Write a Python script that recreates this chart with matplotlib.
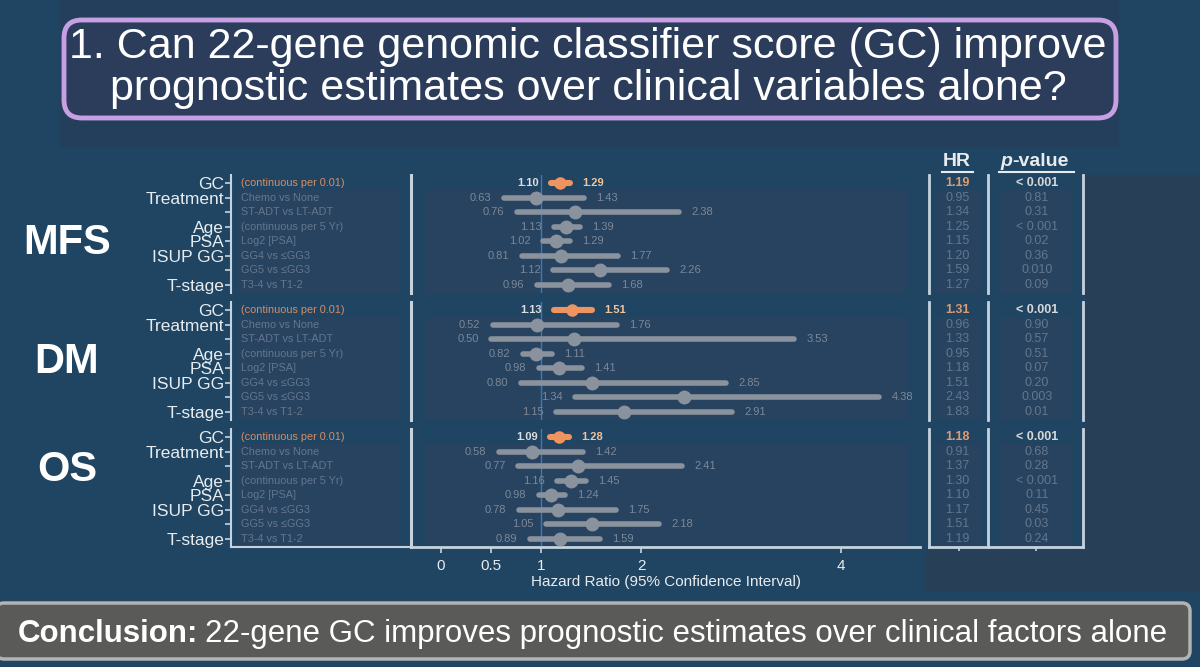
import matplotlib
matplotlib.use("Agg")
import matplotlib.pyplot as plt
from matplotlib.patches import FancyBboxPatch, Rectangle

plt.rcParams['font.family'] = ['Liberation Sans', 'DejaVu Sans']

W, H = 1200, 667

# ---- data ----
sections = ['MFS', 'DM', 'OS']
categories = ['GC', 'Treatment', '', 'Age', 'PSA', 'ISUP GG', '', 'T-stage']
subgroups = ['(continuous per 0.01)', 'Chemo vs None', 'ST-ADT vs LT-ADT',
             '(continuous per 5 Yr)', 'Log2 [PSA]', 'GG4 vs \u2264GG3',
             'GG5 vs \u2264GG3', 'T3-4 vs T1-2']

mfs_hr = [1.19, 0.95, 1.34, 1.25, 1.15, 1.20, 1.59, 1.27]
mfs_lo = [1.10, 0.63, 0.76, 1.13, 1.02, 0.81, 1.12, 0.96]
mfs_hi = [1.29, 1.43, 2.38, 1.39, 1.29, 1.77, 2.26, 1.68]
mfs_p = ['< 0.001', '0.81', '0.31', '< 0.001', '0.02', '0.36', '0.010', '0.09']

dm_hr = [1.31, 0.96, 1.33, 0.95, 1.18, 1.51, 2.43, 1.83]
dm_lo = [1.13, 0.52, 0.50, 0.82, 0.98, 0.80, 1.34, 1.15]
dm_hi = [1.51, 1.76, 3.53, 1.11, 1.41, 2.85, 4.38, 2.91]
dm_p = ['< 0.001', '0.90', '0.57', '0.51', '0.07', '0.20', '0.003', '0.01']

os_hr = [1.18, 0.91, 1.37, 1.30, 1.10, 1.17, 1.51, 1.19]
os_lo = [1.09, 0.58, 0.77, 1.16, 0.98, 0.78, 1.05, 0.89]
os_hi = [1.28, 1.42, 2.41, 1.45, 1.24, 1.75, 2.18, 1.59]
os_p = ['< 0.001', '0.68', '0.28', '< 0.001', '0.11', '0.45', '0.03', '0.24']

x_ticks = [0, 0.5, 1, 2, 4]
x_ticklabels = ['0', '0.5', '1', '2', '4']

title_lines = ['1. Can 22-gene genomic classifier score (GC) improve',
               'prognostic estimates over clinical variables alone?']

# ---- colours ----
BG = '#1f4563'
PANEL = '#274360'
SPINE = '#c6d3de'
WHITE = '#e8ecef'
GRAY = '#8a939d'
DIM = '#64768c'
ORANGE = '#ef9361'

fig = plt.figure(figsize=(12, 6.67), dpi=100)
fig.patch.set_facecolor(BG)

# full-figure axes in pixel units for boxes / headers
bg = fig.add_axes([0, 0, 1, 1])
bg.set_xlim(0, W)
bg.set_ylim(H, 0)
bg.axis('off')

bg.add_patch(Rectangle((60, 0), 1058, 146, color='#233f5b', zorder=0))
bg.add_patch(Rectangle((1085, 175), 115, 415, color='#283f58', zorder=0))
bg.add_patch(Rectangle((925, 550), 160, 40, color='#283f58', zorder=0))

bg.add_patch(FancyBboxPatch((64, 20), 1052, 98,
                            boxstyle='round,pad=0,rounding_size=18',
                            fc='#2b3d5b', ec='#c79fe3', lw=3.5, zorder=2))
bg.text(588, 47, title_lines[0], ha='center', va='center', color='white',
        fontsize=31, zorder=3)
bg.text(588, 89, title_lines[1], ha='center', va='center', color='white',
        fontsize=31, zorder=3)

bg.add_patch(FancyBboxPatch((-4, 603), 1194, 56,
                            boxstyle='round,pad=0,rounding_size=8',
                            fc='#5a5a58', ec='#b3b3b3', lw=2.5, zorder=2))
t1 = bg.text(18, 634, 'Conclusion:', ha='left', va='center', color='white',
             fontsize=22.5, fontweight='bold', zorder=3)
renderer = fig.canvas.get_renderer()
bb = t1.get_window_extent(renderer)
bg.text(18 + bb.width + 7, 634,
        '22-gene GC improves prognostic estimates over clinical factors alone',
        ha='left', va='center', color='white', fontsize=22.5, zorder=3)

# column headers
bg.text(957, 162, 'HR', ha='center', va='center', color=WHITE,
        fontsize=14, fontweight='bold')
bg.plot([942, 973], [172, 172], color=WHITE, lw=1.5)
bg.text(1012, 162, 'p', ha='right', va='center', color=WHITE,
        fontsize=14, fontweight='bold', style='italic')
bg.text(1012, 162, '-value', ha='left', va='center', color=WHITE,
        fontsize=14, fontweight='bold')
bg.plot([999, 1074], [172, 172], color=WHITE, lw=1.5)

section_y = [243, 362, 470]
for name, yc in zip(sections, section_y):
    bg.text(67, yc, name, ha='center', va='center', color='white',
            fontsize=30, fontweight='bold')


def add_ax(x0, y0, x1, y1):
    a = fig.add_axes([x0 / W, 1 - y1 / H, (x1 - x0) / W, (y1 - y0) / H])
    a.patch.set_alpha(0)
    for s in a.spines.values():
        s.set_visible(False)
    a.set_ylim(7.55, -0.55)
    return a


datasets = [(mfs_hr, mfs_lo, mfs_hi, mfs_p),
            (dm_hr, dm_lo, dm_hi, dm_p),
            (os_hr, os_lo, os_hi, os_p)]
row0 = [183, 310, 437]
rows = list(range(len(categories)))

for k, (hr, lo, hi, pv) in enumerate(datasets):
    top = row0[k] - 8
    bot = row0[k] + 110
    last = k == len(datasets) - 1

    # category / subgroup column
    ca = add_ax(231, top, 411, bot)
    ca.set_xlim(0, 1)
    ca.spines['left'].set_visible(True)
    ca.spines['left'].set_color(SPINE)
    ca.spines['left'].set_linewidth(1.5)
    ca.set_yticks(rows)
    ca.set_yticklabels(categories, color=WHITE, fontsize=12.5)
    ca.tick_params(axis='y', colors=SPINE, length=4, width=1.2, pad=1)
    for lab in ca.get_yticklabels():
        lab.set_color(WHITE)
    ca.set_xticks([])
    ca.add_patch(Rectangle((6 / 180, 0.5), 163 / 180, 7.05, color=PANEL, lw=0))
    for i, txt in enumerate(subgroups):
        ca.text(10 / 180, i, txt, ha='left', va='center', fontsize=7.8,
                color='#d98c63' if i == 0 else DIM)
    if last:
        ca.spines['bottom'].set_visible(True)
        ca.spines['bottom'].set_color(SPINE)
        ca.spines['bottom'].set_linewidth(1.5)

    # forest column
    fa = add_ax(411, top, 920, bot)
    fa.set_xlim(-0.3, 4.79)
    fa.spines['left'].set_visible(True)
    fa.spines['left'].set_color(SPINE)
    fa.spines['left'].set_linewidth(2.2)
    fa.set_yticks([])
    fa.add_patch(Rectangle((-0.16, 0.5), 4.83, 7.05, color=PANEL, lw=0))
    fa.axvline(1, color='#3f78b3', lw=1, zorder=1)
    for i in rows:
        col = ORANGE if i == 0 else GRAY
        fa.plot([lo[i], hi[i]], [i, i], color=col, lw=4.4 if i == 0 else 4,
                solid_capstyle='round', zorder=3)
        fa.plot(hr[i], i, 'o', color=col, ms=9 if i == 0 else 10,
                mec='none', zorder=4)
        fa.annotate(f'{lo[i]:.2f}', (lo[i], i), xytext=(-9, 0),
                    textcoords='offset points', ha='right', va='center',
                    fontsize=8, color='#dddddd' if i == 0 else '#7c8898',
                    fontweight='bold' if i == 0 else 'normal')
        fa.annotate(f'{hi[i]:.2f}', (hi[i], i), xytext=(9, 0),
                    textcoords='offset points', ha='left', va='center',
                    fontsize=8, color='#f2c49c' if i == 0 else '#7c8898',
                    fontweight='bold' if i == 0 else 'normal')
    if last:
        fa.spines['bottom'].set_visible(True)
        fa.spines['bottom'].set_color(SPINE)
        fa.spines['bottom'].set_linewidth(2)
        fa.set_xticks(x_ticks)
        fa.set_xticklabels(x_ticklabels, fontsize=11, color=WHITE)
        fa.tick_params(axis='x', colors=SPINE, length=4, width=1.2, pad=5)
        for lab in fa.get_xticklabels():
            lab.set_color(WHITE)
        fa.set_xlabel('Hazard Ratio (95% Confidence Interval)', fontsize=11,
                      color=WHITE, labelpad=1)
    else:
        fa.set_xticks([])

    # HR column
    ha_ = add_ax(929, top, 988, bot)
    ha_.set_xlim(0, 1)
    ha_.spines['left'].set_visible(True)
    ha_.spines['left'].set_color(SPINE)
    ha_.spines['left'].set_linewidth(2)
    ha_.set_yticks([])
    ha_.add_patch(Rectangle((0.1, 0.5), 0.8, 7.05, color=PANEL, lw=0))
    for i in rows:
        ha_.text(0.48, i, f'{hr[i]:.2f}', ha='center', va='center',
                 fontsize=9, color='#e39a70' if i == 0 else DIM,
                 fontweight='bold' if i == 0 else 'normal')

    # p-value column
    pa = add_ax(988, top, 1083, bot)
    pa.set_xlim(0, 1)
    for side in ('left', 'right'):
        pa.spines[side].set_visible(True)
        pa.spines[side].set_color(SPINE)
        pa.spines[side].set_linewidth(2)
    pa.set_yticks([])
    pa.add_patch(Rectangle((0.12, 0.5), 0.76, 7.05, color=PANEL, lw=0))
    for i in rows:
        pa.text(0.515, i, pv[i], ha='center', va='center', fontsize=9,
                color='#d8d8d8' if i == 0 else DIM,
                fontweight='bold' if i == 0 else 'normal')

    for a in (ha_, pa):
        if last:
            a.spines['bottom'].set_visible(True)
            a.spines['bottom'].set_color(SPINE)
            a.spines['bottom'].set_linewidth(2)
            a.set_xticks([0.5])
            a.set_xticklabels([''])
            a.tick_params(axis='x', colors=SPINE, length=3, width=1.2)
        else:
            a.set_xticks([])

fig.savefig('out.png', dpi=100, facecolor=fig.get_facecolor())
